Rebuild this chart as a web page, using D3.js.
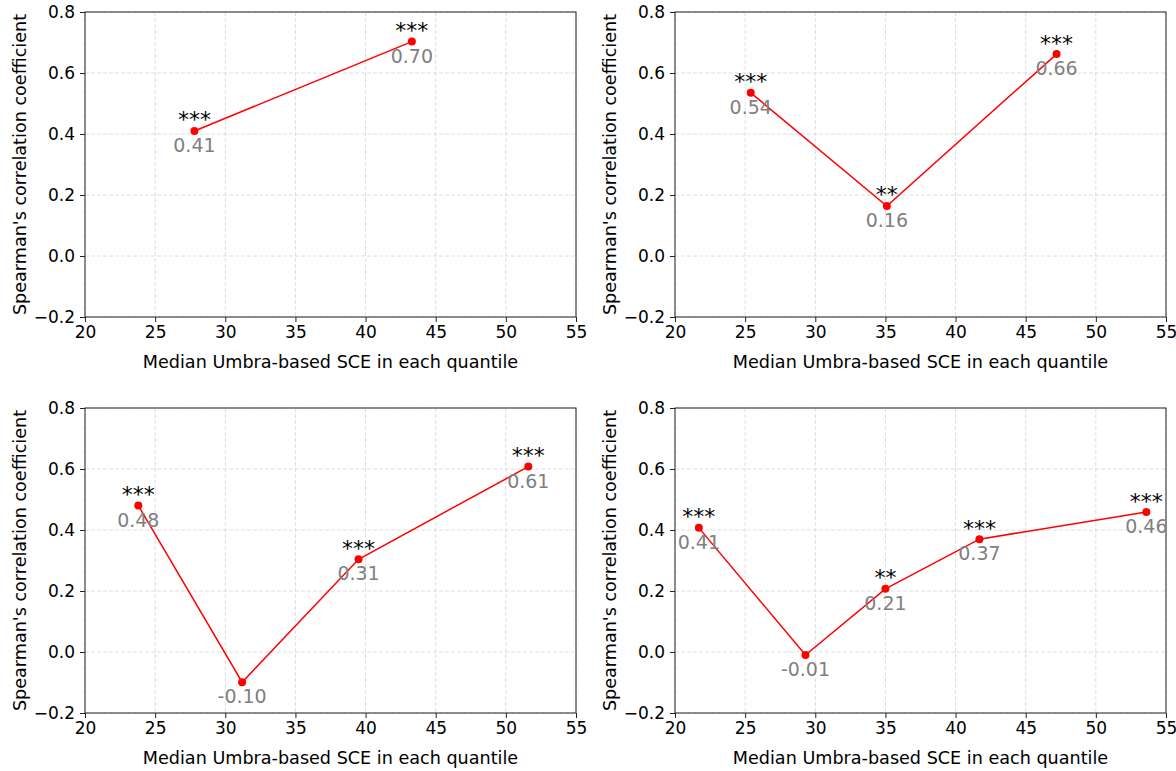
<!DOCTYPE html>
<html><head><meta charset="utf-8">
<script src="https://cdn.jsdelivr.net/npm/d3@7"></script>
<style>
html,body{margin:0;padding:0;background:#fff;}
svg{display:block;font-family:"DejaVu Sans",sans-serif;}
</style></head>
<body><svg id="c" width="1176" height="771"></svg>
<script>
// ---- data ----
const xTicks = [20, 25, 30, 35, 40, 45, 50, 55];
const yTicks = [-0.2, 0.0, 0.2, 0.4, 0.6, 0.8];
const xLabel = "Median Umbra-based SCE in each quantile";
const yLabel = "Spearman's correlation coefficient";

const p1X = [27.8, 43.3];
const p1Y = [0.41, 0.703];
const p1Val = ["0.41", "0.70"];
const p1Sig = ["***", "***"];

const p2X = [25.4, 35.1, 47.2];
const p2Y = [0.535, 0.164, 0.662];
const p2Val = ["0.54", "0.16", "0.66"];
const p2Sig = ["***", "**", "***"];

const p3X = [23.8, 31.2, 39.5, 51.6];
const p3Y = [0.48, -0.099, 0.304, 0.608];
const p3Val = ["0.48", "-0.10", "0.31", "0.61"];
const p3Sig = ["***", "", "***", "***"];

const p4X = [21.7, 29.3, 35.0, 41.7, 53.6];
const p4Y = [0.407, -0.01, 0.207, 0.37, 0.459];
const p4Val = ["0.41", "-0.01", "0.21", "0.37", "0.46"];
const p4Sig = ["***", "", "**", "***", "***"];

const panels = [
  {xs: p1X, ys: p1Y, val: p1Val, sig: p1Sig, left: 85, top: 12},
  {xs: p2X, ys: p2Y, val: p2Val, sig: p2Sig, left: 675, top: 12},
  {xs: p3X, ys: p3Y, val: p3Val, sig: p3Sig, left: 85, top: 408},
  {xs: p4X, ys: p4Y, val: p4Val, sig: p4Sig, left: 675, top: 408}
];

const W = 491, H = 305;
const svg = d3.select("#c");
const fmtY = d => (d < 0 ? "\u2212" : "") + Math.abs(d).toFixed(1);

panels.forEach(p => {
  const g = svg.append("g").attr("transform", `translate(${p.left},${p.top})`);
  const x = d3.scaleLinear().domain([20, 55]).range([0, W]);
  const y = d3.scaleLinear().domain([-0.2, 0.8]).range([H, 0]);

  // grid
  const grid = g.append("g");
  grid.selectAll("line.gx").data(xTicks).join("line")
    .attr("x1", d => x(d)).attr("x2", d => x(d)).attr("y1", 0).attr("y2", H)
    .attr("stroke", "#d6d6d6").attr("stroke-width", 0.8).attr("stroke-dasharray", "4,2");
  grid.selectAll("line.gy").data(yTicks).join("line")
    .attr("y1", d => y(d)).attr("y2", d => y(d)).attr("x1", 0).attr("x2", W)
    .attr("stroke", "#d6d6d6").attr("stroke-width", 0.8).attr("stroke-dasharray", "4,2");

  // axes
  const ax = g.append("g").attr("transform", `translate(0,${H})`)
    .call(d3.axisBottom(x).tickValues(xTicks).tickSize(5).tickPadding(4).tickFormat(d3.format("d")));
  const ay = g.append("g")
    .call(d3.axisLeft(y).tickValues(yTicks).tickSize(5).tickPadding(5).tickFormat(fmtY));
  [ax, ay].forEach(a => {
    a.select(".domain").remove();
    a.selectAll("line").attr("stroke", "#222");
    a.selectAll("text").attr("font-size", "17px").attr("fill", "#000")
      .attr("font-family", "DejaVu Sans");
  });
  // frame
  g.append("rect").attr("x", 0).attr("y", 0).attr("width", W).attr("height", H)
    .attr("fill", "none").attr("stroke", "#222").attr("stroke-width", 1);

  // labels
  g.append("text").attr("x", W / 2).attr("y", H + 51).attr("text-anchor", "middle")
    .attr("font-size", "17.6px").text(xLabel);
  g.append("text").attr("transform", `translate(${-59},${H / 2}) rotate(-90)`)
    .attr("text-anchor", "middle").attr("font-size", "17.6px").text(yLabel);

  const pts = p.xs.map((d, i) => ({x: d, y: p.ys[i], v: p.val[i], s: p.sig[i]}));
  g.append("path").datum(pts)
    .attr("d", d3.line().x(d => x(d.x)).y(d => y(d.y)))
    .attr("fill", "none").attr("stroke", "#ff0000").attr("stroke-width", 1.5);
  g.selectAll("circle.pt").data(pts).join("circle")
    .attr("cx", d => x(d.x)).attr("cy", d => y(d.y)).attr("r", 4).attr("fill", "#ff0000");
  g.selectAll("text.val").data(pts).join("text")
    .attr("x", d => x(d.x)).attr("y", d => y(d.y) + 21).attr("text-anchor", "middle")
    .attr("font-size", "19px").attr("fill", "#808080").text(d => d.v);
  g.selectAll("text.sig").data(pts.filter(d => d.s)).join("text")
    .attr("x", d => x(d.x)).attr("y", d => y(d.y) - 3.5).attr("text-anchor", "middle")
    .attr("font-size", "22px").attr("fill", "#000").text(d => d.s);
});
</script></body></html>
